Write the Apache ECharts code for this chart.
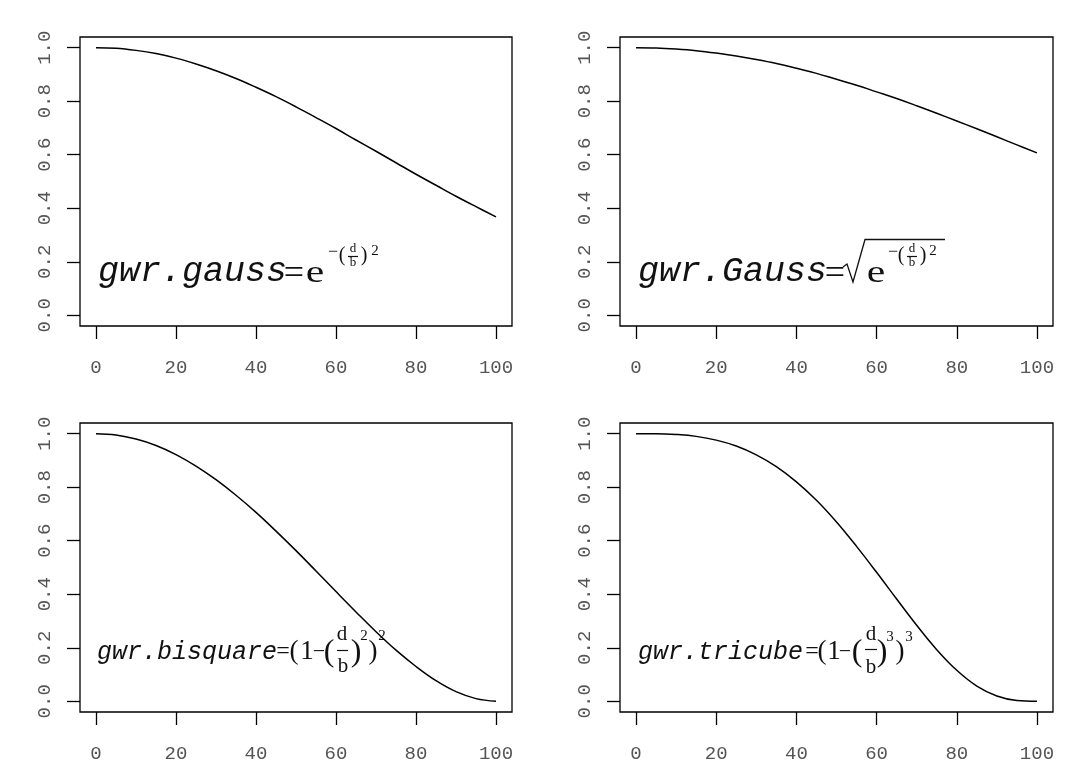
<!DOCTYPE html>
<html>
<head>
<meta charset="utf-8">
<script src="https://cdn.jsdelivr.net/npm/echarts@6/dist/echarts.min.js"></script>
<style>html,body{margin:0;padding:0;background:#fff;}#c{width:1080px;height:771px;}</style>
</head>
<body>
<div id="c"></div>
<script>
// ---- data ----
const distances = [0,5,10,15,20,25,30,35,40,45,50,55,60,65,70,75,80,85,90,95,100];
const gaussValues = [1.000,0.998,0.990,0.978,0.961,0.939,0.914,0.885,0.852,0.817,0.779,0.739,0.698,0.655,0.613,0.570,0.527,0.486,0.445,0.406,0.368];
const GaussValues = [1.000,0.999,0.995,0.989,0.980,0.969,0.956,0.941,0.923,0.904,0.882,0.860,0.835,0.810,0.783,0.755,0.726,0.697,0.667,0.637,0.607];
const bisquareValues = [1.000,0.995,0.980,0.956,0.922,0.879,0.828,0.770,0.706,0.636,0.563,0.487,0.410,0.334,0.260,0.191,0.130,0.077,0.036,0.010,0.000];
const tricubeValues = [1.000,1.000,0.997,0.990,0.976,0.954,0.921,0.877,0.820,0.751,0.670,0.579,0.482,0.382,0.284,0.193,0.116,0.057,0.020,0.003,0.000];
const xTicks = [0,20,40,60,80,100];
const yTicks = [0,0.2,0.4,0.6,0.8,1.0];

const chart = echarts.init(document.getElementById('c'));
const panels = [
  {left:80, top:37, width:432, height:289, values:gaussValues},
  {left:620, top:37, width:433, height:289, values:GaussValues},
  {left:80, top:423, width:432, height:289, values:bisquareValues},
  {left:620, top:423, width:433, height:289, values:tricubeValues}
];
const labelColor = '#555';
const monoFont = 'Liberation Mono';

const grids = [], xAxes = [], yAxes = [], series = [];
panels.forEach((p, i) => {
  grids.push({left:p.left, top:p.top, width:p.width, height:p.height, show:true,
    borderColor:'#000', borderWidth:1.3, backgroundColor:'transparent'});
  xAxes.push({type:'value', gridIndex:i, min:-4, max:104, position:'bottom',
    axisLine:{show:false, onZero:false}, splitLine:{show:false},
    axisTick:{show:true, inside:false, length:13, customValues:xTicks, lineStyle:{color:'#000', width:1.3}},
    axisLabel:{customValues:xTicks, margin:32, color:labelColor, fontFamily:monoFont, fontSize:19}
  });
  yAxes.push({type:'value', gridIndex:i, min:-0.04, max:1.04, position:'left',
    axisLine:{show:false, onZero:false}, splitLine:{show:false},
    axisTick:{show:true, inside:false, length:13, customValues:yTicks, lineStyle:{color:'#000', width:1.3}},
    axisLabel:{customValues:yTicks, rotate:90, margin:26, color:labelColor, fontFamily:monoFont, fontSize:19,
      formatter: v => v.toFixed(1)}
  });
  series.push({type:'line', xAxisIndex:i, yAxisIndex:i, showSymbol:false, smooth:0.4,
    lineStyle:{color:'#000', width:1.5}, data: distances.map((d, k) => [d, p.values[k]])});
});

function T(text, x, y, size, opts) {
  opts = opts || {};
  return {type:'text', x:x, y:y, silent:true, scaleX: opts.sx || 1, scaleY: 1,
    style:{text:text, x:0, y:0, fill: opts.color || '#111',
      font: (opts.italic ? 'italic ' : '') + size + 'px ' + (opts.family || '"Liberation Serif"'),
      align: opts.align || 'center', verticalAlign:'middle',
      textAlign: opts.align || 'center', textVerticalAlign:'middle'}};
}
function L(x1, y1, x2, y2) {
  return {type:'line', silent:true, shape:{x1:x1, y1:y1, x2:x2, y2:y2}, style:{stroke:'#111', lineWidth:1.2}};
}
const mono = {italic:true, family:'"Liberation Mono"', align:'left', color:'#111'};
const graphics = [
  // panel 1
  T('gwr.gauss', 98, 272, 35, mono),
  T('=', 294, 275, 36),
  T('e', 315, 274, 32, {sx:1.3}),
  T('\u2212', 333, 252, 18),
  T('(', 342, 256, 20),
  T('d', 353, 249, 13),
  L(348, 256.5, 358, 256.5),
  T('b', 353, 263, 13),
  T(')', 364, 256, 20),
  T('2', 375, 251, 15),
  // panel 2
  T('gwr.Gauss', 638, 272, 35, mono),
  T('=', 835, 275, 36),
  {type:'polyline', silent:true, shape:{points:[[843,267],[847,264],[853,282],[865,239.5],[945,239.5]]}, style:{stroke:'#111', lineWidth:1.3, fill:null}},
  T('e', 876, 274, 32, {sx:1.3}),
  T('\u2212', 893, 252, 18),
  T('(', 901, 256, 20),
  T('d', 912, 249, 13),
  L(907, 256.5, 917, 256.5),
  T('b', 912, 263, 13),
  T(')', 923, 256, 20),
  T('2', 933, 251, 15),
  // panel 3
  T('gwr.bisquare', 97, 652, 25, mono),
  T('=', 283, 652, 24),
  T('(', 294, 652, 27),
  T('1', 307, 652, 27),
  T('\u2212', 319, 652, 22),
  T('(', 329, 653, 32),
  T('d', 342, 634, 21),
  L(337, 650.5, 348, 650.5),
  T('b', 343, 666, 21),
  T(')', 356, 653, 32),
  T('2', 364, 636, 15),
  T(')', 373, 652, 27),
  T('2', 382, 636, 15),
  // panel 4
  T('gwr.tricube', 638, 652, 25, mono),
  T('=', 812, 652, 24),
  T('(', 822, 652, 27),
  T('1', 834, 652, 27),
  T('\u2212', 845, 652, 22),
  T('(', 857, 653, 32),
  T('d', 871, 634, 21),
  L(865, 649.5, 877, 649.5),
  T('b', 871, 667, 21),
  T(')', 882, 653, 32),
  T('3', 890, 637, 15),
  T(')', 900, 652, 27),
  T('3', 909, 637, 15)
];

chart.setOption({
  animation:false,
  backgroundColor:'#fff',
  grid:grids, xAxis:xAxes, yAxis:yAxes, series:series,
  graphic:graphics
});
</script>
</body>
</html>
